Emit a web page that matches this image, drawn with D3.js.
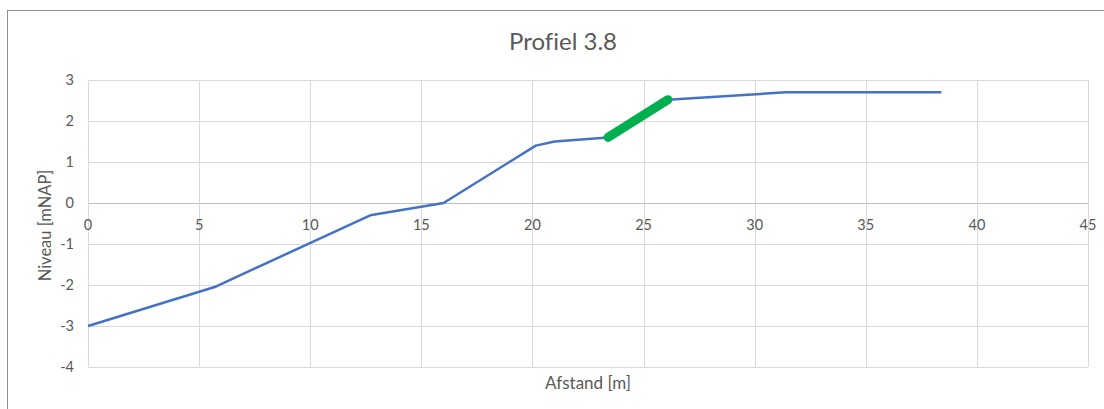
<!DOCTYPE html>
<html>
<head>
<meta charset="utf-8">
<script src="https://cdn.jsdelivr.net/npm/d3@7"></script>
<style>
  body { margin: 0; background: #fff; }
  svg text { font-family: Lato, "Open Sans", sans-serif; fill: #595959; font-variant-ligatures: none; }
</style>
</head>
<body>
<div id="chart"></div>
<script>
// profile points (afstand in m, niveau in mNAP)
const afstand = [0, 5.7, 12.7, 16, 20.15, 21, 23.4, 26.1, 31.4, 38.4];
const niveau = [-3, -2.05, -0.3, 0, 1.4, 1.5, 1.6, 2.52, 2.7, 2.7];
// highlighted stretch (green)
const hlAfstand = [23.4, 26.1];
const hlNiveau = [1.6, 2.52];

const xTicks = [0, 5, 10, 15, 20, 25, 30, 35, 40, 45];
const yTicks = [-4, -3, -2, -1, 0, 1, 2, 3];

const width = 1104,
  height = 409;
const margin = { left: 88, right: 16, top: 80, bottom: 42 };

const svg = d3
  .select("#chart")
  .append("svg")
  .attr("width", width)
  .attr("height", height);

// chart frame
svg
  .append("rect")
  .attr("x", 7.5)
  .attr("y", 10.5)
  .attr("width", 1200)
  .attr("height", 500)
  .attr("fill", "none")
  .attr("stroke", "#8c8c8c");

const x = d3.scaleLinear().domain([0, 45]).range([margin.left, width - margin.right]);
const y = d3.scaleLinear().domain([-4, 3]).range([height - margin.bottom, margin.top]);

// gridlines
svg
  .append("g")
  .selectAll("line")
  .data(yTicks)
  .join("line")
  .attr("x1", x(0))
  .attr("x2", x(45))
  .attr("y1", (d) => Math.round(y(d)) + 0.5)
  .attr("y2", (d) => Math.round(y(d)) + 0.5)
  .attr("stroke", (d) => (d === 0 ? "#bfbfbf" : "#d9d9d9"))
  .attr("stroke-width", 1);

svg
  .append("g")
  .selectAll("line")
  .data(xTicks)
  .join("line")
  .attr("x1", (d) => Math.round(x(d)) + 0.5)
  .attr("x2", (d) => Math.round(x(d)) + 0.5)
  .attr("y1", y(3))
  .attr("y2", y(-4))
  .attr("stroke", "#d9d9d9")
  .attr("stroke-width", 1);

// tick labels
svg
  .append("g")
  .selectAll("text")
  .data(yTicks)
  .join("text")
  .attr("x", 74)
  .attr("y", (d) => y(d))
  .attr("dy", "0.35em")
  .attr("text-anchor", "end")
  .attr("font-size", 14.5)
  .text((d) => d);

svg
  .append("g")
  .selectAll("text")
  .data(xTicks)
  .join("text")
  .attr("x", (d) => x(d))
  .attr("y", y(0) + 27)
  .attr("text-anchor", "middle")
  .attr("font-size", 14.5)
  .text((d) => d);

// profile line
const line = d3
  .line()
  .x((d, i) => x(afstand[i]))
  .y((d, i) => y(niveau[i]));

svg
  .append("path")
  .datum(afstand)
  .attr("d", line)
  .attr("fill", "none")
  .attr("stroke", "#4472c4")
  .attr("stroke-width", 2.5)
  .attr("stroke-linejoin", "round");

const hlLine = d3
  .line()
  .x((d, i) => x(hlAfstand[i]))
  .y((d, i) => y(hlNiveau[i]));

svg
  .append("path")
  .datum(hlAfstand)
  .attr("d", hlLine)
  .attr("fill", "none")
  .attr("stroke", "#00b050")
  .attr("stroke-width", 9)
  .attr("stroke-linecap", "round");

// titles
svg
  .append("text")
  .attr("x", 563)
  .attr("y", 50)
  .attr("text-anchor", "middle")
  .attr("font-size", 24)
  .text("Profiel 3.8");

svg
  .append("text")
  .attr("x", (x(0) + x(45)) / 2)
  .attr("y", 389)
  .attr("text-anchor", "middle")
  .attr("font-size", 17)
  .text("Afstand [m]");

svg
  .append("text")
  .attr("transform", `translate(51,${(y(3) + y(-4)) / 2 + 2}) rotate(-90)`)
  .attr("text-anchor", "middle")
  .attr("font-size", 16.5)
  .text("Niveau [mNAP]");
</script>
</body>
</html>
